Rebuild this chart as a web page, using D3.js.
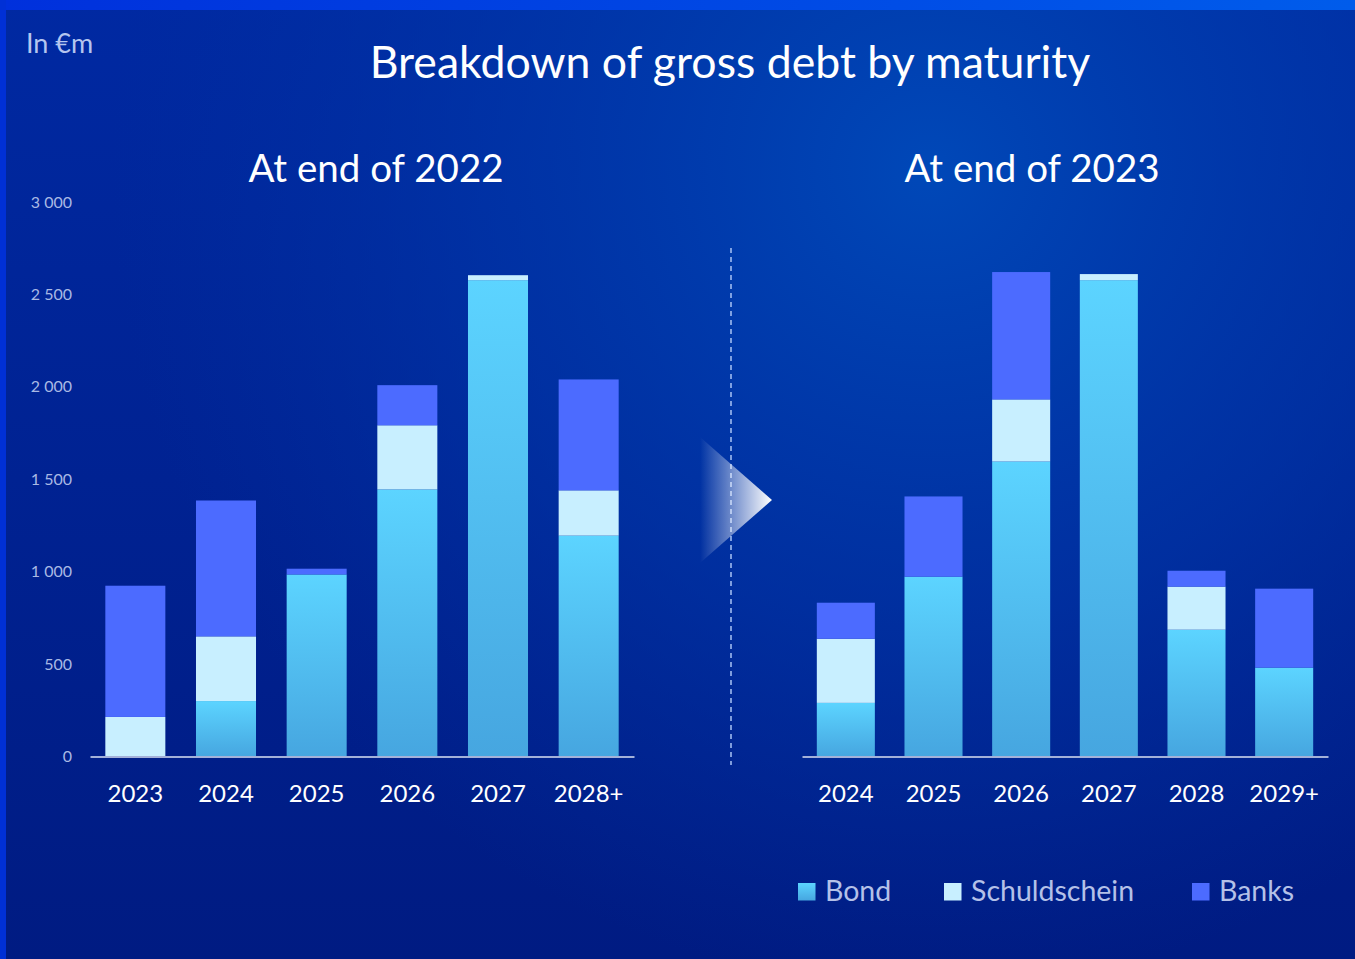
<!DOCTYPE html>
<html>
<head>
<meta charset="utf-8">
<script src="https://cdn.jsdelivr.net/npm/d3@7"></script>
<style>
  html, body { margin: 0; padding: 0; background: #001f95; }
  svg { display: block; }
  text { font-family: Lato, "Open Sans", sans-serif; }
</style>
</head>
<body>
<svg id="chart" width="1355" height="959"></svg>
<script>
// Maturity profile, €m — position at end of 2022
const years2022 = ["2023", "2024", "2025", "2026", "2027", "2028+"];
const bond2022 = [0, 300, 985, 1445, 2577, 1195];
const schuld2022 = [214, 350, 0, 347, 27, 245];
const banks2022 = [710, 735, 31, 217, 0, 600];

// Maturity profile, €m — position at end of 2023
const years2023 = ["2024", "2025", "2026", "2027", "2028", "2029+"];
const bond2023 = [290, 973, 1596, 2577, 686, 481];
const schuld2023 = [347, 0, 336, 33, 233, 0];
const banks2023 = [195, 434, 689, 0, 86, 427];

const seriesKeys = ["Bond", "Schuldschein", "Banks"];
const yTicks = [0, 500, 1000, 1500, 2000, 2500, 3000];

const W = 1355, H = 959;
const svg = d3.select("#chart");
const defs = svg.append("defs");

// ---- background ----
const bgLin = defs.append("linearGradient").attr("id", "bgLin")
  .attr("x1", 0).attr("y1", 0).attr("x2", 0).attr("y2", 1);
bgLin.append("stop").attr("offset", "0%").attr("stop-color", "#0029a2");
bgLin.append("stop").attr("offset", "100%").attr("stop-color", "#001b82");

const bgGlow = defs.append("radialGradient").attr("id", "bgGlow")
  .attr("gradientUnits", "userSpaceOnUse")
  .attr("cx", 930).attr("cy", 170).attr("r", 820);
bgGlow.append("stop").attr("offset", "0%").attr("stop-color", "#0048b8").attr("stop-opacity", 1);
bgGlow.append("stop").attr("offset", "55%").attr("stop-color", "#0038aa").attr("stop-opacity", 0.6);
bgGlow.append("stop").attr("offset", "100%").attr("stop-color", "#0030a0").attr("stop-opacity", 0);

const topBar = defs.append("linearGradient").attr("id", "topBar")
  .attr("x1", 0).attr("y1", 0).attr("x2", 1).attr("y2", 0);
topBar.append("stop").attr("offset", "0%").attr("stop-color", "#0030dc");
topBar.append("stop").attr("offset", "100%").attr("stop-color", "#005ceb");

svg.append("rect").attr("width", W).attr("height", H).attr("fill", "url(#bgLin)");
svg.append("rect").attr("width", W).attr("height", H).attr("fill", "url(#bgGlow)");
svg.append("rect").attr("x", 0).attr("y", 0).attr("width", W).attr("height", 10).attr("fill", "url(#topBar)");
svg.append("rect").attr("x", 0).attr("y", 0).attr("width", 6).attr("height", H).attr("fill", "#0030d6");

// ---- fills ----
const bondGrad = defs.append("linearGradient").attr("id", "bondGrad")
  .attr("x1", 0).attr("y1", 0).attr("x2", 0).attr("y2", 1);
bondGrad.append("stop").attr("offset", "0%").attr("stop-color", "#5cd4ff");
bondGrad.append("stop").attr("offset", "100%").attr("stop-color", "#46a6e0");

const colors = { Bond: "url(#bondGrad)", Schuldschein: "#c8efff", Banks: "#4c6bff" };

// ---- titles ----
svg.append("text").attr("x", 26).attr("y", 53)
  .attr("font-size", 27).attr("fill", "#b5c5ef").text("In €m");
svg.append("text").attr("x", 730).attr("y", 78).attr("text-anchor", "middle")
  .attr("font-size", 44.6).attr("fill", "#ffffff").text("Breakdown of gross debt by maturity");
svg.append("text").attr("x", 376).attr("y", 182).attr("text-anchor", "middle")
  .attr("font-size", 38.5).attr("fill", "#ffffff").text("At end of 2022");
svg.append("text").attr("x", 1032).attr("y", 182).attr("text-anchor", "middle")
  .attr("font-size", 38.5).attr("fill", "#ffffff").text("At end of 2023");

// ---- shared value scale ----
const y = d3.scaleLinear().domain([0, 3000]).range([756.5, 202]);
const fmt = d3.formatLocale({ decimal: ",", thousands: " ", grouping: [3], currency: ["", "€"] }).format(",");

const yAxis = svg.append("g").attr("transform", "translate(72,0)")
  .call(d3.axisLeft(y).tickValues(yTicks).tickFormat(fmt).tickSize(0).tickPadding(0));
yAxis.select(".domain").remove();
yAxis.selectAll("text").attr("font-size", 16).attr("fill", "#a9b9e4")
  .attr("font-family", "Lato, sans-serif");

const stack = d3.stack().keys(seriesKeys);

function drawPanel(years, bond, schuld, banks, x0, x1) {
  const rows = years.map((yr, i) => ({ year: yr, Bond: bond[i], Schuldschein: schuld[i], Banks: banks[i] }));
  const x = d3.scaleBand().domain(years).range([x0, x1]).paddingInner(0.338).paddingOuter(0.169);
  const g = svg.append("g");

  const layers = stack(rows);
  g.selectAll("g.layer").data(layers).join("g").attr("class", "layer")
    .attr("fill", d => colors[d.key])
    .selectAll("rect").data(d => d.filter(s => s[1] - s[0] > 0)).join("rect")
      .attr("x", d => x(d.data.year))
      .attr("width", x.bandwidth())
      .attr("y", d => y(d[1]))
      .attr("height", d => y(d[0]) - y(d[1]));

  const xAxis = g.append("g").attr("transform", `translate(0,${y(0)})`)
    .call(d3.axisBottom(x).tickSize(0).tickSizeOuter(0).tickPadding(0));
  xAxis.select(".domain").attr("stroke", "#a3b1d9").attr("stroke-width", 2);
  xAxis.selectAll("text").attr("font-size", 24).attr("fill", "#ffffff")
    .attr("font-family", "Lato, sans-serif")
    .attr("dy", 0).attr("y", 45);
}

drawPanel(years2022, bond2022, schuld2022, banks2022, 90, 634);
drawPanel(years2023, bond2023, schuld2023, banks2023, 802, 1328);

// ---- separator and arrow ----
svg.append("line").attr("x1", 731).attr("x2", 731).attr("y1", 248).attr("y2", 765)
  .attr("stroke", "#a9c4f5").attr("stroke-width", 1.5).attr("stroke-dasharray", "5,4");

const arrowGrad = defs.append("linearGradient").attr("id", "arrowGrad")
  .attr("x1", 0).attr("y1", 0).attr("x2", 1).attr("y2", 0);
arrowGrad.append("stop").attr("offset", "0%").attr("stop-color", "#ffffff").attr("stop-opacity", 0);
arrowGrad.append("stop").attr("offset", "100%").attr("stop-color", "#ffffff").attr("stop-opacity", 1);
svg.append("path").attr("d", "M700,437 L772,500 L700,563 Z").attr("fill", "url(#arrowGrad)");

// ---- legend ----
const legendX = [798, 944, 1192];
const legend = svg.append("g");
seriesKeys.forEach((k, i) => {
  legend.append("rect").attr("x", legendX[i]).attr("y", 883).attr("width", 17.5).attr("height", 17.5)
    .attr("fill", colors[k]);
  legend.append("text").attr("x", legendX[i] + 27).attr("y", 901)
    .attr("font-size", 28.5).attr("fill", "#b4c1e8").text(k);
});
</script>
</body>
</html>
